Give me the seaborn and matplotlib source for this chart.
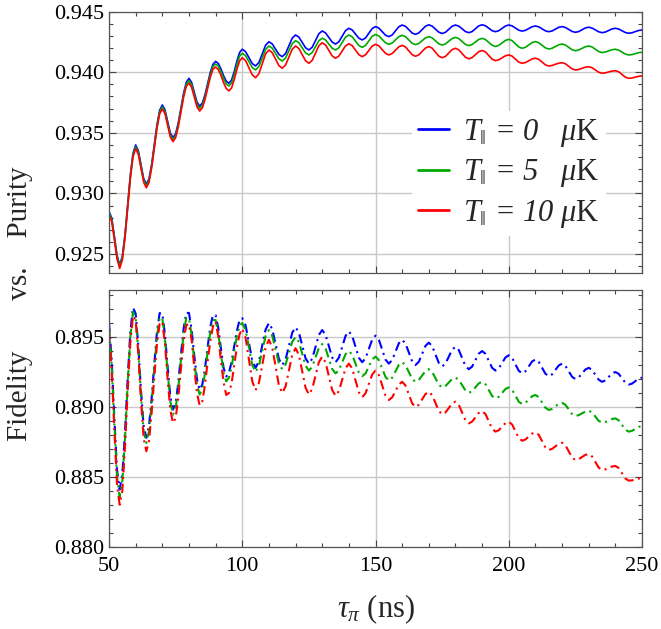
import numpy as np
import pandas as pd
import matplotlib
matplotlib.use("Agg")
import matplotlib.pyplot as plt
from matplotlib.ticker import MultipleLocator, FormatStrFormatter
import seaborn as sns

# pulse duration samples (ns)
tau = np.concatenate([np.arange(50, 101, 1.0), np.arange(101.25, 250.1, 1.25)])

temps = [0, 5, 10]
colors = ["#0000ff", "#00a800", "#ff0000"]

# upper panel (solid curves)
top_T0 = [
    0.92850, 0.92800, 0.92650, 0.92490, 0.92410, 0.92480, 0.92660, 0.92910, 0.93150, 0.93330,
    0.93400, 0.93353, 0.93238, 0.93123, 0.93076, 0.93120, 0.93240, 0.93403, 0.93567, 0.93686,
    0.93730, 0.93691, 0.93595, 0.93499, 0.93460, 0.93493, 0.93583, 0.93705, 0.93828, 0.93917,
    0.93950, 0.93916, 0.93835, 0.93754, 0.93720, 0.93745, 0.93813, 0.93905, 0.93998, 0.94065,
    0.94090, 0.94073, 0.94028, 0.93971, 0.93926, 0.93909, 0.93936, 0.94006, 0.94093, 0.94163,
    0.94190,
    0.94170, 0.94121, 0.94072, 0.94052, 0.94081, 0.94152, 0.94223, 0.94252,
    0.94234, 0.94191, 0.94147, 0.94129, 0.94155, 0.94219, 0.94282, 0.94308,
    0.94290, 0.94246, 0.94202, 0.94184, 0.94207, 0.94263, 0.94318, 0.94341,
    0.94325, 0.94287, 0.94249, 0.94233, 0.94252, 0.94298, 0.94344, 0.94363,
    0.94349, 0.94315, 0.94281, 0.94267, 0.94283, 0.94322, 0.94361, 0.94377,
    0.94365, 0.94336, 0.94306, 0.94294, 0.94308, 0.94342, 0.94376, 0.94390,
    0.94379, 0.94352, 0.94324, 0.94313, 0.94325, 0.94353, 0.94380, 0.94392,
    0.94381, 0.94356, 0.94331, 0.94320, 0.94330, 0.94355, 0.94380, 0.94390,
    0.94381, 0.94359, 0.94336, 0.94327, 0.94336, 0.94360, 0.94383, 0.94392,
    0.94384, 0.94364, 0.94343, 0.94335, 0.94343, 0.94363, 0.94382, 0.94390,
    0.94383, 0.94365, 0.94347, 0.94340, 0.94346, 0.94361, 0.94376, 0.94382,
    0.94375, 0.94359, 0.94342, 0.94335, 0.94341, 0.94356, 0.94371, 0.94377,
    0.94370, 0.94354, 0.94337, 0.94330, 0.94336, 0.94351, 0.94366, 0.94372,
    0.94365, 0.94350, 0.94334, 0.94327, 0.94332, 0.94345, 0.94358, 0.94363,
    0.94357, 0.94343, 0.94328, 0.94322, 0.94326, 0.94336, 0.94345, 0.94349,
]
top_T5 = [
    0.92838, 0.92788, 0.92638, 0.92478, 0.92398, 0.92468, 0.92648, 0.92898, 0.93138, 0.93318,
    0.93386, 0.93339, 0.93224, 0.93109, 0.93062, 0.93106, 0.93226, 0.93389, 0.93553, 0.93672,
    0.93714, 0.93675, 0.93579, 0.93483, 0.93444, 0.93477, 0.93567, 0.93689, 0.93812, 0.93901,
    0.93931, 0.93897, 0.93816, 0.93735, 0.93701, 0.93726, 0.93794, 0.93886, 0.93979, 0.94046,
    0.94068, 0.94051, 0.94006, 0.93949, 0.93904, 0.93887, 0.93912, 0.93980, 0.94065, 0.94133,
    0.94157,
    0.94137, 0.94088, 0.94039, 0.94019, 0.94048, 0.94118, 0.94188, 0.94217,
    0.94199, 0.94155, 0.94111, 0.94093, 0.94118, 0.94177, 0.94236, 0.94261,
    0.94244, 0.94202, 0.94160, 0.94143, 0.94163, 0.94212, 0.94261, 0.94281,
    0.94267, 0.94233, 0.94198, 0.94184, 0.94202, 0.94246, 0.94290, 0.94308,
    0.94293, 0.94257, 0.94221, 0.94206, 0.94221, 0.94259, 0.94297, 0.94312,
    0.94300, 0.94272, 0.94243, 0.94231, 0.94242, 0.94268, 0.94294, 0.94305,
    0.94294, 0.94267, 0.94239, 0.94228, 0.94238, 0.94261, 0.94284, 0.94294,
    0.94284, 0.94260, 0.94235, 0.94225, 0.94234, 0.94257, 0.94279, 0.94288,
    0.94278, 0.94254, 0.94230, 0.94220, 0.94229, 0.94250, 0.94271, 0.94280,
    0.94270, 0.94247, 0.94223, 0.94213, 0.94222, 0.94243, 0.94263, 0.94272,
    0.94261, 0.94235, 0.94209, 0.94198, 0.94206, 0.94226, 0.94245, 0.94253,
    0.94244, 0.94223, 0.94201, 0.94192, 0.94198, 0.94213, 0.94227, 0.94233,
    0.94225, 0.94206, 0.94186, 0.94178, 0.94184, 0.94198, 0.94211, 0.94217,
    0.94209, 0.94190, 0.94171, 0.94163, 0.94167, 0.94177, 0.94186, 0.94190,
    0.94183, 0.94167, 0.94150, 0.94143, 0.94146, 0.94154, 0.94162, 0.94165,
]
top_T10 = [
    0.92820, 0.92770, 0.92620, 0.92460, 0.92380, 0.92450, 0.92630, 0.92880, 0.93120, 0.93300,
    0.93370, 0.93323, 0.93208, 0.93093, 0.93046, 0.93090, 0.93210, 0.93373, 0.93537, 0.93656,
    0.93697, 0.93658, 0.93562, 0.93466, 0.93427, 0.93460, 0.93550, 0.93672, 0.93795, 0.93884,
    0.93910, 0.93876, 0.93795, 0.93714, 0.93680, 0.93705, 0.93773, 0.93865, 0.93958, 0.94025,
    0.94043, 0.94023, 0.93975, 0.93914, 0.93866, 0.93846, 0.93871, 0.93940, 0.94025, 0.94094,
    0.94120,
    0.94096, 0.94038, 0.93979, 0.93955, 0.93988, 0.94070, 0.94151, 0.94184,
    0.94162, 0.94109, 0.94055, 0.94033, 0.94060, 0.94125, 0.94190, 0.94217,
    0.94196, 0.94146, 0.94095, 0.94074, 0.94099, 0.94159, 0.94219, 0.94244,
    0.94225, 0.94180, 0.94135, 0.94116, 0.94134, 0.94176, 0.94218, 0.94236,
    0.94220, 0.94183, 0.94145, 0.94129, 0.94144, 0.94180, 0.94216, 0.94231,
    0.94218, 0.94187, 0.94156, 0.94143, 0.94155, 0.94183, 0.94210, 0.94222,
    0.94209, 0.94177, 0.94145, 0.94132, 0.94144, 0.94172, 0.94200, 0.94212,
    0.94199, 0.94166, 0.94133, 0.94120, 0.94131, 0.94159, 0.94187, 0.94198,
    0.94185, 0.94155, 0.94124, 0.94111, 0.94121, 0.94146, 0.94170, 0.94180,
    0.94168, 0.94138, 0.94108, 0.94096, 0.94103, 0.94120, 0.94136, 0.94143,
    0.94133, 0.94109, 0.94084, 0.94074, 0.94080, 0.94095, 0.94110, 0.94116,
    0.94107, 0.94084, 0.94061, 0.94052, 0.94056, 0.94066, 0.94075, 0.94079,
    0.94070, 0.94049, 0.94028, 0.94019, 0.94023, 0.94033, 0.94042, 0.94046,
    0.94038, 0.94019, 0.94000, 0.93992, 0.93995, 0.94003, 0.94010, 0.94013,
    0.94004, 0.93982, 0.93959, 0.93950, 0.93953, 0.93960, 0.93967, 0.93970,
]

# lower panel (dot-dashed curves)
bot_T0 = [
    0.89600, 0.89340, 0.88930, 0.88550, 0.88410, 0.88523, 0.88820, 0.89201, 0.89537, 0.89710,
    0.89668, 0.89438, 0.89120, 0.88865, 0.88780, 0.88863, 0.89061, 0.89309, 0.89536, 0.89671,
    0.89667, 0.89518, 0.89286, 0.89076, 0.88981, 0.89027, 0.89173, 0.89375, 0.89561, 0.89673,
    0.89672, 0.89553, 0.89368, 0.89200, 0.89124, 0.89160, 0.89273, 0.89428, 0.89571, 0.89657,
    0.89656, 0.89566, 0.89417, 0.89279, 0.89218, 0.89245, 0.89321, 0.89437, 0.89546, 0.89622,
    0.89635,
    0.89583, 0.89458, 0.89332, 0.89280, 0.89327, 0.89440, 0.89553, 0.89600,
    0.89556, 0.89450, 0.89344, 0.89300, 0.89339, 0.89435, 0.89531, 0.89570,
    0.89532, 0.89440, 0.89348, 0.89310, 0.89345, 0.89430, 0.89515, 0.89550,
    0.89516, 0.89435, 0.89354, 0.89320, 0.89352, 0.89430, 0.89508, 0.89540,
    0.89508, 0.89430, 0.89352, 0.89320, 0.89348, 0.89415, 0.89482, 0.89510,
    0.89481, 0.89410, 0.89339, 0.89310, 0.89335, 0.89395, 0.89455, 0.89480,
    0.89454, 0.89390, 0.89326, 0.89300, 0.89323, 0.89380, 0.89437, 0.89460,
    0.89435, 0.89375, 0.89315, 0.89290, 0.89310, 0.89360, 0.89410, 0.89430,
    0.89407, 0.89350, 0.89293, 0.89270, 0.89289, 0.89335, 0.89381, 0.89400,
    0.89380, 0.89330, 0.89280, 0.89260, 0.89276, 0.89315, 0.89354, 0.89370,
    0.89351, 0.89305, 0.89259, 0.89240, 0.89255, 0.89290, 0.89325, 0.89340,
    0.89322, 0.89280, 0.89238, 0.89220, 0.89233, 0.89265, 0.89297, 0.89310,
    0.89294, 0.89255, 0.89216, 0.89200, 0.89212, 0.89240, 0.89268, 0.89280,
    0.89265, 0.89230, 0.89195, 0.89180, 0.89190, 0.89215, 0.89240, 0.89250,
    0.89237, 0.89205, 0.89173, 0.89160, 0.89167, 0.89185, 0.89203, 0.89210,
]
bot_T5 = [
    0.89570, 0.89300, 0.88890, 0.88500, 0.88355, 0.88470, 0.88775, 0.89160, 0.89500, 0.89680,
    0.89640, 0.89405, 0.89085, 0.88825, 0.88743, 0.88825, 0.89025, 0.89275, 0.89500, 0.89640,
    0.89635, 0.89485, 0.89250, 0.89040, 0.88945, 0.88990, 0.89137, 0.89340, 0.89525, 0.89637,
    0.89636, 0.89515, 0.89330, 0.89162, 0.89090, 0.89125, 0.89238, 0.89393, 0.89536, 0.89622,
    0.89621, 0.89530, 0.89380, 0.89243, 0.89183, 0.89210, 0.89285, 0.89400, 0.89508, 0.89583,
    0.89600,
    0.89549, 0.89425, 0.89301, 0.89250, 0.89294, 0.89400, 0.89506, 0.89550,
    0.89509, 0.89410, 0.89311, 0.89270, 0.89304, 0.89385, 0.89466, 0.89500,
    0.89465, 0.89380, 0.89295, 0.89260, 0.89288, 0.89355, 0.89422, 0.89450,
    0.89419, 0.89345, 0.89271, 0.89240, 0.89263, 0.89320, 0.89377, 0.89400,
    0.89374, 0.89310, 0.89246, 0.89220, 0.89240, 0.89290, 0.89340, 0.89360,
    0.89335, 0.89275, 0.89215, 0.89190, 0.89209, 0.89255, 0.89301, 0.89320,
    0.89300, 0.89250, 0.89200, 0.89180, 0.89193, 0.89225, 0.89257, 0.89270,
    0.89251, 0.89205, 0.89159, 0.89140, 0.89150, 0.89175, 0.89200, 0.89210,
    0.89194, 0.89156, 0.89118, 0.89102, 0.89113, 0.89141, 0.89169, 0.89180,
    0.89163, 0.89121, 0.89079, 0.89062, 0.89073, 0.89101, 0.89129, 0.89140,
    0.89123, 0.89081, 0.89038, 0.89021, 0.89030, 0.89054, 0.89077, 0.89086,
    0.89070, 0.89033, 0.88995, 0.88979, 0.88986, 0.89005, 0.89023, 0.89030,
    0.89016, 0.88983, 0.88950, 0.88936, 0.88942, 0.88955, 0.88968, 0.88974,
    0.88961, 0.88931, 0.88901, 0.88888, 0.88893, 0.88904, 0.88914, 0.88919,
    0.88905, 0.88872, 0.88838, 0.88824, 0.88830, 0.88844, 0.88858, 0.88864,
]
bot_T10 = [
    0.89540, 0.89260, 0.88840, 0.88440, 0.88302, 0.88400, 0.88710, 0.89110, 0.89460, 0.89650,
    0.89620, 0.89380, 0.89045, 0.88775, 0.88684, 0.88755, 0.88960, 0.89215, 0.89450, 0.89595,
    0.89610, 0.89450, 0.89200, 0.88980, 0.88886, 0.88920, 0.89065, 0.89275, 0.89470, 0.89585,
    0.89593, 0.89480, 0.89280, 0.89100, 0.89012, 0.89040, 0.89155, 0.89320, 0.89470, 0.89575,
    0.89610, 0.89505, 0.89330, 0.89175, 0.89086, 0.89100, 0.89170, 0.89300, 0.89430, 0.89520,
    0.89560,
    0.89496, 0.89340, 0.89184, 0.89120, 0.89173, 0.89300, 0.89427, 0.89480,
    0.89425, 0.89290, 0.89155, 0.89100, 0.89147, 0.89260, 0.89373, 0.89420,
    0.89372, 0.89255, 0.89138, 0.89090, 0.89129, 0.89225, 0.89321, 0.89360,
    0.89319, 0.89220, 0.89121, 0.89080, 0.89114, 0.89195, 0.89276, 0.89310,
    0.89275, 0.89190, 0.89105, 0.89070, 0.89098, 0.89165, 0.89232, 0.89260,
    0.89229, 0.89155, 0.89081, 0.89050, 0.89069, 0.89115, 0.89161, 0.89180,
    0.89154, 0.89090, 0.89026, 0.89000, 0.89016, 0.89055, 0.89093, 0.89109,
    0.89085, 0.89029, 0.88972, 0.88948, 0.88961, 0.88993, 0.89025, 0.89038,
    0.89015, 0.88961, 0.88906, 0.88883, 0.88896, 0.88927, 0.88958, 0.88971,
    0.88950, 0.88898, 0.88845, 0.88824, 0.88834, 0.88860, 0.88885, 0.88895,
    0.88875, 0.88827, 0.88779, 0.88759, 0.88768, 0.88789, 0.88810, 0.88819,
    0.88801, 0.88756, 0.88711, 0.88693, 0.88701, 0.88719, 0.88737, 0.88745,
    0.88727, 0.88683, 0.88639, 0.88621, 0.88627, 0.88643, 0.88658, 0.88664,
    0.88647, 0.88607, 0.88567, 0.88550, 0.88554, 0.88565, 0.88575, 0.88579,
    0.88564, 0.88527, 0.88489, 0.88474, 0.88476, 0.88483, 0.88489, 0.88491,
]

# italic text with an upright K for the unit
legend_labels = [
    r"$T_{\|}$ = 0   $\mu\mathrm{K}$",
    r"$T_{\|}$ = 5   $\mu\mathrm{K}$",
    r"$T_{\|}$ = 10 $\mu\mathrm{K}$",
]

sns.set_style("ticks")
plt.rcParams["font.family"] = ["Liberation Serif", "DejaVu Serif"]
plt.rcParams["mathtext.fontset"] = "custom"
plt.rcParams["mathtext.rm"] = "Liberation Serif"
plt.rcParams["mathtext.it"] = "Liberation Serif:italic"
plt.rcParams["mathtext.bf"] = "Liberation Serif:bold"

fig = plt.figure(figsize=(6.61, 6.29), dpi=100)
ax_top = fig.add_axes([0.1649, 0.5660, 0.8064, 0.4154])
ax_bot = fig.add_axes([0.1649, 0.1304, 0.8064, 0.4090])

handles = []
for col, ys in zip(colors, [top_T0, top_T5, top_T10]):
    df = pd.DataFrame({"tau": tau, "F": ys})
    sns.lineplot(data=df, x="tau", y="F", ax=ax_top, color=col, lw=1.2,
                 estimator=None, sort=False, legend=False)
    handles.append(ax_top.lines[-1])

for col, ys in zip(colors, [bot_T0, bot_T5, bot_T10]):
    df = pd.DataFrame({"tau": tau, "P": ys})
    sns.lineplot(data=df, x="tau", y="P", ax=ax_bot, color=col, lw=1.5,
                 estimator=None, sort=False, legend=False,
                 linestyle=(0, (4.5, 2.2, 1.0, 2.2)))

for ax in (ax_top, ax_bot):
    ax.set_xlim(50, 250)
    ax.xaxis.set_major_locator(MultipleLocator(50))
    ax.xaxis.set_minor_locator(MultipleLocator(10))
    ax.yaxis.set_major_locator(MultipleLocator(0.005))
    ax.yaxis.set_minor_locator(MultipleLocator(0.001))
    ax.yaxis.set_major_formatter(FormatStrFormatter("%.3f"))
    ax.grid(True, which="major", color="#c8c8c8", lw=1.0)
    ax.set_axisbelow(True)
    ax.tick_params(which="both", direction="in", top=True, right=True,
                   colors="#444444", labelcolor="black", labelsize=16, width=0.8)
    ax.tick_params(which="major", length=5)
    ax.tick_params(which="minor", length=2.8)
    for s in ax.spines.values():
        s.set_color("#555555")
        s.set_linewidth(0.9)
    ax.set_xlabel("")
    ax.set_ylabel("")

ax_top.set_ylim(0.92343, 0.945)
ax_top.tick_params(labelbottom=False)
ax_bot.set_ylim(0.880, 0.89838)
ax_bot.tick_params(axis="x", pad=7)

ax_bot.set_xlabel(r"$\tau_{\pi}$ (ns)", fontsize=22, labelpad=12)
# shared label: "Fidelity" sits by the lower panel, "Purity" by the upper one
fig.text(0.030, 0.299, "Fidelity       vs.    Purity", rotation=90, fontsize=21,
         ha="center", va="bottom")

leg = ax_top.legend(handles, legend_labels, loc="upper left",
                    bbox_to_anchor=(0.5685, 0.62),
                    prop={"size": 22, "style": "italic"}, frameon=True,
                    framealpha=1.0, edgecolor="none", handlelength=1.0,
                    handletextpad=0.46, labelspacing=0.27, borderpad=0.2,
                    borderaxespad=0.0)
for h in leg.legend_handles:
    h.set_linewidth(2.0)

fig.savefig("out.png", dpi=100)
